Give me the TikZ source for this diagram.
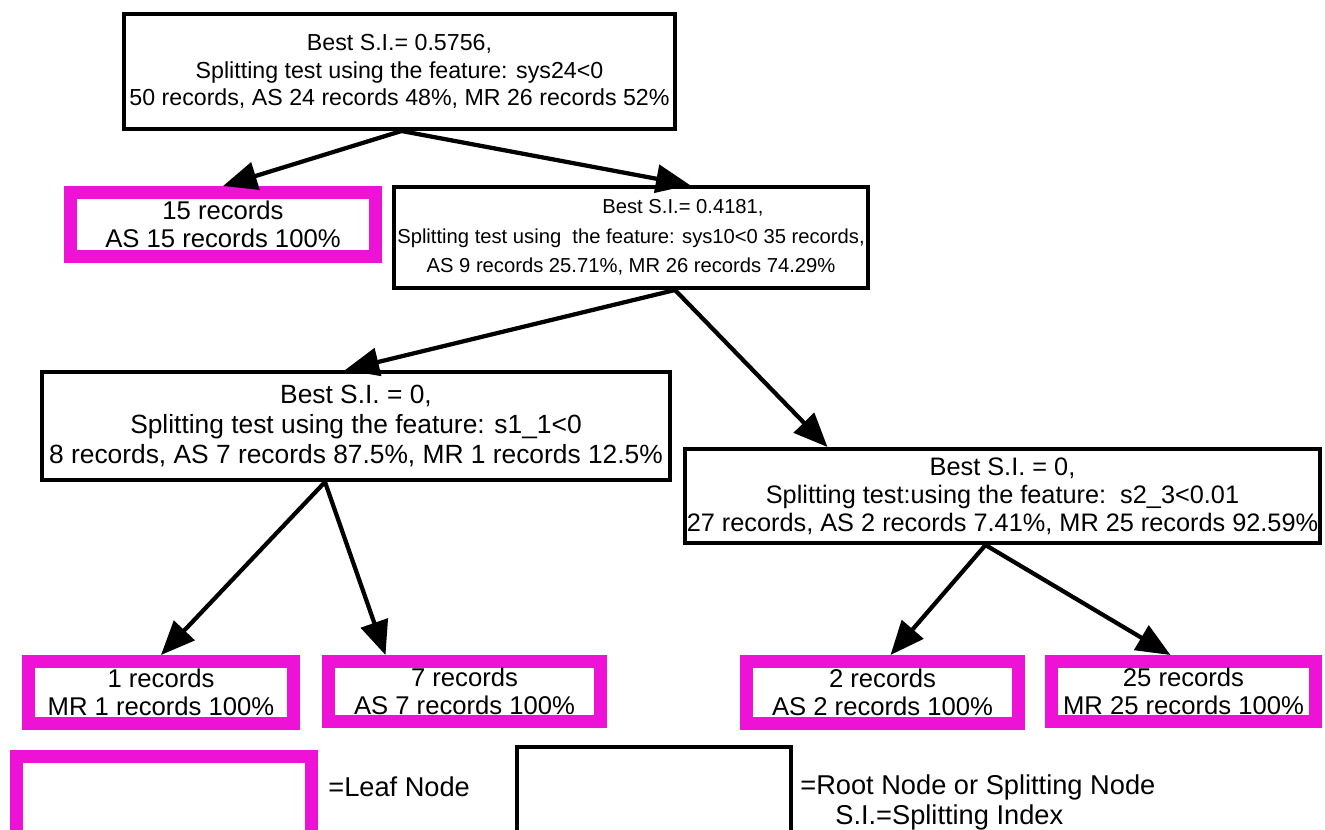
\documentclass[tikz,border=0pt]{standalone}
\usepackage{fontspec}
\setmainfont{Liberation Sans}
\usetikzlibrary{calc,arrows.meta}
\definecolor{leafpink}{RGB}{238,18,214}

\begin{document}
\begin{tikzpicture}[x=0.02cm,y=-0.02cm,
  splitnode/.style={draw=black,line width=0.08cm,inner sep=0pt,align=center},
  leafnode/.style={draw=leafpink,line width=0.26cm,inner sep=0pt,align=center,font=\fontsize{14.6}{16}\selectfont},
  branch/.style={line width=0.085cm,-{Triangle[length=0.68cm,width=0.56cm]}},
  keytext/.style={anchor=west,inner sep=0pt,font=\fontsize{15.5}{18}\selectfont}]
  \useasboundingbox (0,0) rectangle (1325,829);

  \node[splitnode,minimum width=11.02cm,minimum height=2.3cm,font=\fontsize{13.2}{15.6}\selectfont] (root) at (399.5,71.5)
    {Best S.I.= 0.5756,\\Splitting test using the feature: sys24<0\\50 records, AS 24 records 48\%, MR 26 records 52\%};
  \node[leafnode,minimum width=6.1cm,minimum height=1.28cm] (leaf15) at (223,224.5) {15 records\\AS 15 records 100\%};
  \node[splitnode,minimum width=9.48cm,minimum height=2.02cm,font=\fontsize{11.5}{16.8}\selectfont] (split10) at (631,237.5)
    {\hspace*{2.08cm}Best S.I.= 0.4181,\\Splitting test using\ \ the feature: sys10<0 35 records,\\AS 9 records 25.71\%, MR 26 records 74.29\%};
  \node[splitnode,minimum width=12.56cm,minimum height=2.16cm,font=\fontsize{15}{17}\selectfont] (split11) at (356,426)
    {Best S.I. = 0,\\Splitting test using the feature: s1\_1<0\\8 records, AS 7 records 87.5\%, MR 1 records 12.5\%};
  \node[splitnode,minimum width=12.7cm,minimum height=1.88cm,font=\fontsize{14.4}{16}\selectfont] (split23) at (1002.5,496)
    {Best S.I. = 0,\\Splitting test:using the feature:\ \ s2\_3<0.01\\27 records, AS 2 records 7.41\%, MR 25 records 92.59\%};

  \node[leafnode,minimum width=5.3cm,minimum height=1.24cm] (leaf1) at (161,692.5) {1 records\\MR 1 records 100\%};
  \node[leafnode,minimum width=5.44cm,minimum height=1.2cm] (leaf7) at (464.5,691.5) {7 records\\AS 7 records 100\%};
  \node[leafnode,minimum width=5.44cm,minimum height=1.24cm] (leaf2) at (882.5,692.5) {2 records\\AS 2 records 100\%};
  \node[leafnode,minimum width=5.28cm,minimum height=1.2cm] (leaf25) at (1183.5,691.5) {25 records\\MR 25 records 100\%};

  \draw[branch] ($(root.south)+(2,0)$) -- (leaf15.north);
  \draw[branch] ($(root.south)+(2,0)$) -- ($(split10.north)+(59,0)$);
  \draw[branch] ($(split10.south)+(44,0)$) -- ($(split11.north)+(-11,0)$);
  \draw[branch] ($(split10.south)+(44,0)$) -- ($(split23.north)+(-175,0)$);
  \draw[branch] ($(split11.south)+(-31,0)$) -- (leaf1.north);
  \draw[branch] ($(split11.south)+(-31,0)$) -- ($(leaf7.north)+(-79,0)$);
  \draw[branch] ($(split23.south)+(-17,0)$) -- ($(leaf2.north)+(8,0)$);
  \draw[branch] ($(split23.south)+(-17,0)$) -- ($(leaf25.north)+(-13,0)$);

  \node[leafnode,minimum width=5.9cm,minimum height=1.67cm] (keyleaf) at (164,798.25) {};
  \node[splitnode,minimum width=5.48cm,minimum height=1.86cm] (keysplit) at (654,793.5) {};
  \node[keytext] (keyleaftext) at (328,787) {=Leaf Node};
  \node[keytext] (keysplittext) at (800,787) {=Root Node or Splitting Node};
  \node[keytext] (keyindex) at (835,817) {S.I.=Splitting Index};
\end{tikzpicture}
\end{document}
